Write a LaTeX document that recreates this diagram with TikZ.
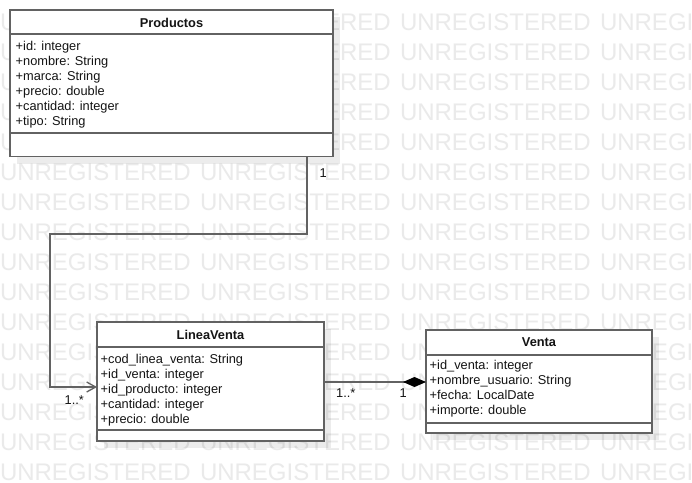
\documentclass[tikz,border=0pt]{standalone}
\usepackage{fontspec}
\setmainfont{Liberation Sans}
\usetikzlibrary{arrows.meta}
\definecolor{wmgray}{RGB}{234,234,234}
\definecolor{linegray}{RGB}{98,98,98}
\definecolor{txt}{RGB}{20,20,20}
\begin{document}
\begin{tikzpicture}[x=1pt,y=-1pt,
  wm/.style={anchor=base west,inner sep=0pt,outer sep=0pt,text=wmgray,font=\fontsize{24}{24}\selectfont},
  classbox/.style={draw=linegray,line width=1.4pt,fill=white,anchor=north west,inner sep=0pt,outer sep=0pt},
  shadowbox/.style={fill=black,fill opacity=0.075,anchor=north west,inner sep=0pt,outer sep=0pt},
  divider/.style={draw=linegray,line width=1.4pt},
  ctitle/.style={anchor=base,inner sep=0pt,text=txt,font=\fontsize{12.8}{15}\selectfont\bfseries},
  attr/.style={anchor=base west,inner sep=0pt,text=txt,font=\fontsize{12.8}{15}\selectfont},
  mult/.style={anchor=base west,inner sep=0pt,text=txt,font=\fontsize{12.8}{15}\selectfont},
  conn/.style={draw=linegray,line width=1.3pt}
]
\useasboundingbox (0,0) rectangle (692,482);
\fill[white] (0,0) rectangle (692,482);
% watermark
\foreach \r in {1,...,16}{
  \foreach \c in {0,...,3}{
    \node[wm] (wm-\r-\c) at (200*\c,30*\r) {UNREGISTERED};
  }
}
% shadows
\node[shadowbox,minimum width=323pt,minimum height=146.5pt] (prodS) at (17,17) {};
\node[shadowbox,minimum width=227pt,minimum height=119pt] (lvS) at (104,329) {};
\node[shadowbox,minimum width=226pt,minimum height=103pt] (ventaS) at (433,337) {};
% class boxes
\node[classbox,minimum width=323pt,minimum height=146.5pt] (prod) at (10,10) {};
\node[classbox,minimum width=227pt,minimum height=119pt] (lv) at (97,322) {};
\node[classbox,minimum width=226pt,minimum height=103pt] (venta) at (426,330) {};
% dividers
\draw[divider] ([yshift=-24pt]prod.north west) -- ([yshift=-24pt]prod.north east);
\draw[divider] ([yshift=-123pt]prod.north west) -- ([yshift=-123pt]prod.north east);
\draw[divider] ([yshift=-25pt]lv.north west) -- ([yshift=-25pt]lv.north east);
\draw[divider] ([yshift=-108pt]lv.north west) -- ([yshift=-108pt]lv.north east);
\draw[divider] ([yshift=-25pt]venta.north west) -- ([yshift=-25pt]venta.north east);
\draw[divider] ([yshift=-93pt]venta.north west) -- ([yshift=-93pt]venta.north east);
% titles
\node[ctitle] (prodT) at (171.5,27) {Productos};
\node[ctitle] (lvT) at (210.5,339.3) {LineaVenta};
\node[ctitle] (ventaT) at (539,346.7) {Venta};
% attributes
\foreach \t [count=\i] in {+id: integer,+nombre: String,+marca: String,+precio: double,+cantidad: integer,+tipo: String}{
  \node[attr] (pa\i) at (15.5,35+15*\i) {\t};
}
\foreach \t [count=\i] in {+cod\_linea\_venta: String,+id\_venta: integer,+id\_producto: integer,+cantidad: integer,+precio: double}{
  \node[attr] (la\i) at (100.5,348.5+15*\i) {\t};
}
\foreach \t [count=\i] in {+id\_venta: integer,+nombre\_usuario: String,+fecha: LocalDate,+importe: double}{
  \node[attr] (va\i) at (429.5,354.5+15*\i) {\t};
}
% connectors
\coordinate (pj) at (307,234);
\coordinate (lj) at (50,387);
\coordinate (cy) at (0,382);
\draw[conn,-{Straight Barb[length=9pt,width=10pt]}] (prod.south -| pj) -- (pj) -| (lj) -- (lv.west |- lj);
\draw[conn,-{Diamond[length=23pt,width=10pt,fill=black,color=black]}] (lv.east |- cy) -- (venta.west |- cy);
% multiplicities
\node[mult] (m1) at (319.5,177) {1};
\node[mult] (m2) at (64.5,404) {1..*};
\node[mult] (m3) at (336,397.5) {1..*};
\node[mult] (m4) at (399.5,397.5) {1};
\end{tikzpicture}
\end{document}
